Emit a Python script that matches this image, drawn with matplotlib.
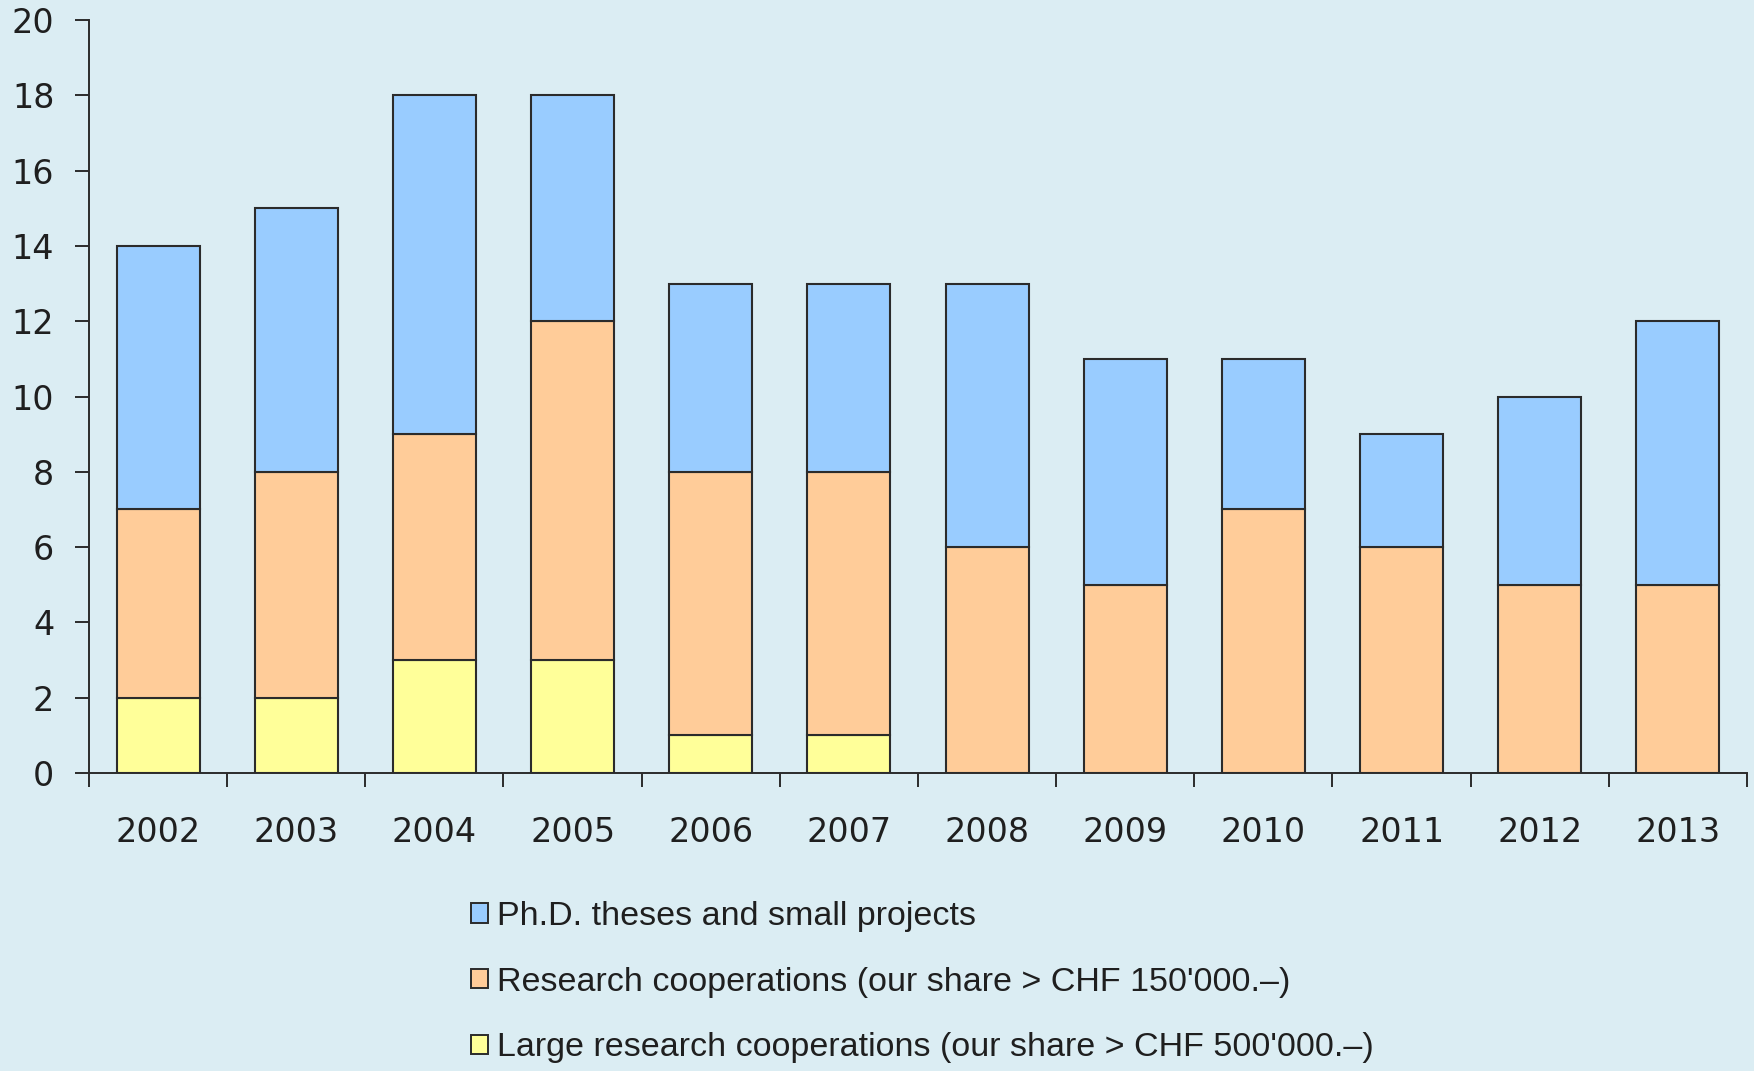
import matplotlib
matplotlib.use("Agg")
import matplotlib.pyplot as plt
from matplotlib.patches import Patch
import numpy as np

years = ["2002", "2003", "2004", "2005", "2006", "2007", "2008", "2009", "2010", "2011", "2012", "2013"]
large = [2, 2, 3, 3, 1, 1, 0, 0, 0, 0, 0, 0]
research = [5, 6, 6, 9, 7, 7, 6, 5, 7, 6, 5, 5]
phd = [7, 7, 9, 6, 5, 5, 7, 6, 4, 3, 5, 7]
labels = ["Ph.D. theses and small projects",
          "Research cooperations (our share > CHF 150'000.–)",
          "Large research cooperations (our share > CHF 500'000.–)"]
yticks = [0, 2, 4, 6, 8, 10, 12, 14, 16, 18, 20]

leg_family = ["Liberation Sans", "DejaVu Sans"]
leg_size = 24.5

bg = "#DBEDF3"
c_phd = "#99CCFF"
c_res = "#FFCC99"
c_large = "#FFFF99"
edge = "#2b2b2b"
txt = "#1f1f1f"

fig = plt.figure(figsize=(17.54, 10.71), dpi=100, facecolor=bg)
ax = fig.add_axes([89/1754, 1 - 773/1071, (1747 - 89)/1754, (773 - 20)/1071])
ax.set_facecolor(bg)

x = np.arange(len(years))
w = 0.6
lw = 1.5
ax.bar(x, large, w, color=c_large, edgecolor=edge, linewidth=lw, zorder=3)
ax.bar(x, research, w, bottom=large, color=c_res, edgecolor=edge, linewidth=lw, zorder=3)
b2 = np.array(large) + np.array(research)
ax.bar(x, phd, w, bottom=b2, color=c_phd, edgecolor=edge, linewidth=lw, zorder=3)

ax.set_xlim(-0.5, len(years) - 0.5)
ax.set_ylim(0, 20)
ax.set_yticks(yticks)
ax.set_yticklabels([str(v) for v in yticks], family="DejaVu Sans", fontsize=24, color=txt)
ax.set_xticks(np.arange(-0.5, len(years), 1.0))
ax.set_xticklabels([])
ax.set_xticks(x, minor=True)
ax.set_xticklabels(years, minor=True, family="DejaVu Sans", fontsize=24, color=txt)
ax.tick_params(axis="x", which="major", direction="out", length=10, width=1.4, color=edge)
ax.tick_params(axis="x", which="minor", length=0, pad=31)
ax.tick_params(axis="y", direction="out", length=10, width=1.4, color=edge, pad=15)

for s in ["top", "right"]:
    ax.spines[s].set_visible(False)
for s in ["left", "bottom"]:
    ax.spines[s].set_linewidth(1.4)
    ax.spines[s].set_color(edge)

handles = [Patch(facecolor=c, edgecolor=edge, linewidth=1.4) for c in (c_phd, c_res, c_large)]
fig.legend(handles, labels, loc="upper left", bbox_to_anchor=(471/1754, 1 - 901/1071),
           frameon=False, prop={"family": leg_family, "size": leg_size},
           handlelength=0.5, handleheight=0.5, handletextpad=0.25,
           labelspacing=1.02, borderpad=0, borderaxespad=0, labelcolor=txt)

fig.savefig("out.png", dpi=100, facecolor=bg)
